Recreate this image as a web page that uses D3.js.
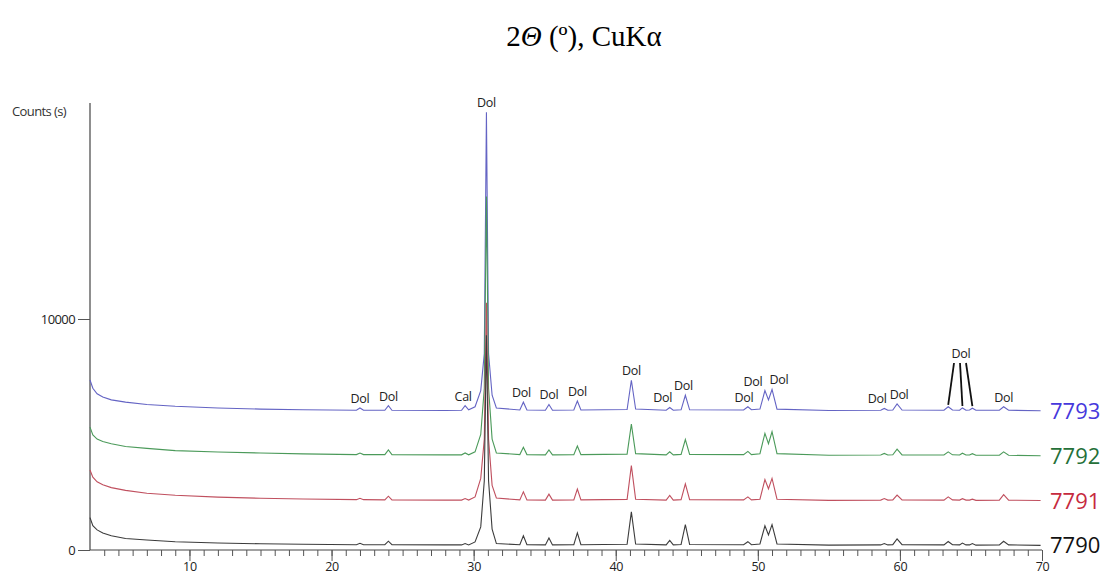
<!DOCTYPE html>
<html lang="en">
<head>
<meta charset="utf-8">
<title>XRD patterns 7790-7793</title>
<script src="https://d3js.org/d3.v7.min.js"></script>
<style>
  body { margin: 0; background: #fff; }
</style>
</head>
<body>
<script type="text/javascript">

// 2-theta positions (degrees) of the sampled points
var twoTheta = [3.0, 3.2, 3.5, 3.9, 4.5, 5.5, 7, 9, 12, 15, 18,
  21.75, 22.0, 22.25, 23.75, 24.0, 24.25, 28.0, 29.15, 29.4, 29.65,
  30.1, 30.5, 30.75, 30.9, 31.05, 31.3, 31.6,
  33.25, 33.5, 33.75, 35.05, 35.3, 35.55, 37.05, 37.3, 37.55,
  40.8, 41.1, 41.4, 43.55, 43.8, 44.05, 44.6, 44.9, 45.2,
  49.0, 49.3, 49.55, 50.15, 50.5, 50.75, 51.0, 51.35, 55.0,
  58.65, 58.9, 59.15, 59.5, 59.8, 60.15,
  63.1, 63.4, 63.7, 64.2, 64.4, 64.65, 64.9, 65.1, 65.35,
  67.0, 67.3, 67.65, 69.9];

// counts (stacked as drawn)
var counts7793 = [7360, 7000, 6760, 6620, 6500, 6400, 6300, 6220, 6150, 6100, 6070,
  6050, 6150, 6050, 6050, 6250, 6050, 6040, 6050, 6250, 6070,
  6200, 6900, 8500, 18950, 8500, 6700, 6150,
  6060, 6400, 6060, 6050, 6300, 6050, 6060, 6450, 6060,
  6080, 7350, 6100, 6050, 6170, 6050, 6070, 6700, 6070,
  6060, 6200, 6070, 6100, 6900, 6500, 6950, 6100, 6040,
  6050, 6130, 6050, 6060, 6320, 6060,
  6050, 6200, 6060, 6050, 6150, 6050, 6060, 6140, 6050,
  6050, 6200, 6050, 6030];

var counts7792 = [5320, 4980, 4800, 4700, 4600, 4480, 4400, 4300, 4240, 4200, 4160,
  4130, 4200, 4130, 4130, 4330, 4130, 4120, 4120, 4200, 4120,
  4250, 5000, 7000, 15300, 7000, 4800, 4200,
  4130, 4450, 4130, 4120, 4330, 4120, 4130, 4500, 4130,
  4150, 5450, 4170, 4120, 4250, 4120, 4140, 4780, 4140,
  4130, 4270, 4130, 4170, 5050, 4600, 5120, 4170, 4100,
  4110, 4180, 4110, 4120, 4370, 4120,
  4110, 4250, 4120, 4110, 4190, 4110, 4110, 4170, 4100,
  4100, 4250, 4100, 4080];

var counts7791 = [3460, 3150, 2950, 2820, 2700, 2580, 2460, 2370, 2290, 2240, 2210,
  2180, 2240, 2180, 2170, 2330, 2170, 2160, 2160, 2230, 2160,
  2300, 3100, 4800, 10700, 4800, 2800, 2250,
  2170, 2520, 2170, 2160, 2420, 2160, 2170, 2640, 2170,
  2190, 3650, 2200, 2160, 2360, 2160, 2180, 2860, 2180,
  2170, 2300, 2170, 2200, 3050, 2650, 3100, 2200, 2150,
  2160, 2230, 2160, 2170, 2380, 2170,
  2160, 2300, 2170, 2160, 2220, 2160, 2160, 2200, 2150,
  2160, 2400, 2160, 2140];

var counts7790 = [1400, 1050, 870, 740, 620, 500, 430, 360, 300, 270, 250,
  230, 290, 230, 230, 380, 230, 220, 220, 280, 220,
  350, 1000, 3000, 9300, 3000, 900, 280,
  230, 620, 230, 220, 520, 220, 230, 740, 230,
  250, 1650, 260, 220, 420, 220, 240, 1100, 240,
  230, 360, 230, 260, 1050, 650, 1100, 260, 210,
  220, 280, 220, 230, 480, 230,
  220, 370, 230, 220, 300, 220, 220, 280, 210,
  220, 380, 220, 200];

var sampleNames = ["7793", "7792", "7791", "7790"];

// phase labels on the top pattern
var peakPos   = [22.0, 24.0, 29.4, 30.9, 33.5, 35.3, 37.3, 41.1, 43.8, 44.9, 49.3, 50.5, 51.0, 58.9, 59.8, 67.3];
var peakPhase = ["Dol", "Dol", "Cal", "Dol", "Dol", "Dol", "Dol", "Dol", "Dol", "Dol", "Dol", "Dol", "Dol", "Dol", "Dol", "Dol"];
var groupPeaks = [63.4, 64.4, 65.1];   // shared "Dol" label

var xTicks = [10, 20, 30, 40, 50, 60, 70];
var yTicks = [0, 10000];

// layout
var w = 1103, h = 576;
var colors = ["#6464c4", "#4b9a5a", "#c0505f", "#3c3c3c"];
var nameColors = ["#4638dc", "#257038", "#c62a3e", "#111111"];
var labelNudge = [0, 0, -2, 0, -2, 0, 0, 0, -7, -2, -4, -12, 7, -7, 2, 0];
var sans = "Open Sans, DejaVu Sans, sans-serif";

var svg = d3.select("body")
  .append("svg")
  .attr("width", w)
  .attr("height", h);

var x = d3.scaleLinear().domain([3, 70]).range([90, 1042]);
var y = d3.scaleLinear().domain([0, 10000]).range([550, 319]);

// title
var title = svg.append("text")
  .attr("x", 584)
  .attr("y", 46)
  .attr("text-anchor", "middle")
  .attr("font-family", "Liberation Serif, Times New Roman, serif")
  .attr("font-size", "29px")
  .attr("fill", "#000");
title.append("tspan").text("2");
title.append("tspan").attr("font-style", "italic").text("Θ");
title.append("tspan").text(" (º), CuKα");

// x axis: minor ticks every degree, labels every 10
var xAxis = d3.axisBottom(x)
  .tickValues(d3.range(4, 71))
  .tickSize(6)
  .tickFormat("");
svg.append("g")
  .attr("transform", "translate(0,550)")
  .call(xAxis)
  .call(function(g) {
    g.select(".domain").attr("d", "M" + x(3) + ",0H" + x(70)).attr("stroke", "#444");
    g.selectAll(".tick line").attr("stroke", "#555");
  });

svg.append("g")
  .attr("transform", "translate(0,550)")
  .call(d3.axisBottom(x).tickValues(xTicks).tickSize(11))
  .call(function(g) {
    g.select(".domain").remove();
    g.selectAll(".tick line").attr("stroke", "#555");
    g.selectAll(".tick text")
      .attr("y", 21)
      .attr("dy", "0")
      .attr("font-family", sans)
      .attr("font-size", "12.5px")
      .attr("letter-spacing", "-0.3px")
      .attr("fill", "#222");
  });

// y axis
svg.append("g")
  .attr("transform", "translate(90,0)")
  .call(d3.axisLeft(y).tickValues(yTicks).tickSize(12).tickPadding(3).tickFormat(d3.format("d")))
  .call(function(g) {
    g.select(".domain").attr("d", "M0," + y(0) + "V103").attr("stroke", "#444").attr("stroke-width", 1.2);
    g.selectAll(".tick line").attr("stroke", "#555");
    g.selectAll(".tick text")
      .attr("font-family", sans)
      .attr("font-size", "13px")
      .attr("letter-spacing", "-0.6px")
      .attr("fill", "#222");
  });

svg.append("text")
  .attr("x", 12)
  .attr("y", 116)
  .attr("font-family", sans)
  .attr("font-size", "13px")
  .attr("letter-spacing", "-0.6px")
  .attr("fill", "#333")
  .text("Counts (s)");

// the four patterns
var series = [counts7793, counts7792, counts7791, counts7790];
var line = d3.line()
  .x(function(d, i) { return x(twoTheta[i]); })
  .y(function(d) { return y(d); });

svg.selectAll("path.pattern")
  .data(series)
  .enter()
  .append("path")
  .attr("class", "pattern")
  .attr("d", line)
  .attr("fill", "none")
  .attr("stroke", function(d, i) { return colors[i]; })
  .attr("stroke-width", 1.1);

// sample names at the right end
svg.selectAll("text.name")
  .data(series)
  .enter()
  .append("text")
  .attr("class", "name")
  .attr("x", 1050)
  .attr("y", function(d) { return y(d[d.length - 1]) + 8; })
  .attr("font-family", sans)
  .attr("font-size", "22px")
  .attr("fill", function(d, i) { return nameColors[i]; })
  .text(function(d, i) { return sampleNames[i]; });

// phase labels above the top pattern
function topAt(t) {
  return counts7793[twoTheta.indexOf(t)];
}

svg.selectAll("text.phase")
  .data(peakPos)
  .enter()
  .append("text")
  .attr("class", "phase")
  .attr("x", function(d, i) { return x(d) + labelNudge[i]; })
  .attr("y", function(d) { return y(topAt(d)) - 5; })
  .attr("text-anchor", "middle")
  .attr("font-family", sans)
  .attr("font-size", "12.5px")
  .attr("letter-spacing", "-0.3px")
  .attr("fill", "#222")
  .text(function(d, i) { return peakPhase[i]; });

// grouped label with leader lines
var groupX = x(64.3);
svg.append("text")
  .attr("x", groupX)
  .attr("y", 358)
  .attr("text-anchor", "middle")
  .attr("font-family", sans)
  .attr("font-size", "12.5px")
  .attr("letter-spacing", "-0.3px")
  .attr("fill", "#222")
  .text("Dol");

svg.selectAll("line.leader")
  .data(groupPeaks)
  .enter()
  .append("line")
  .attr("class", "leader")
  .attr("x1", function(d, i) { return groupX - 7 + i * 6; })
  .attr("y1", 363)
  .attr("x2", function(d) { return x(d); })
  .attr("y2", function(d) { return y(topAt(d)) - 2; })
  .attr("stroke", "#111")
  .attr("stroke-width", 1.8);

</script>
</body>
</html>
